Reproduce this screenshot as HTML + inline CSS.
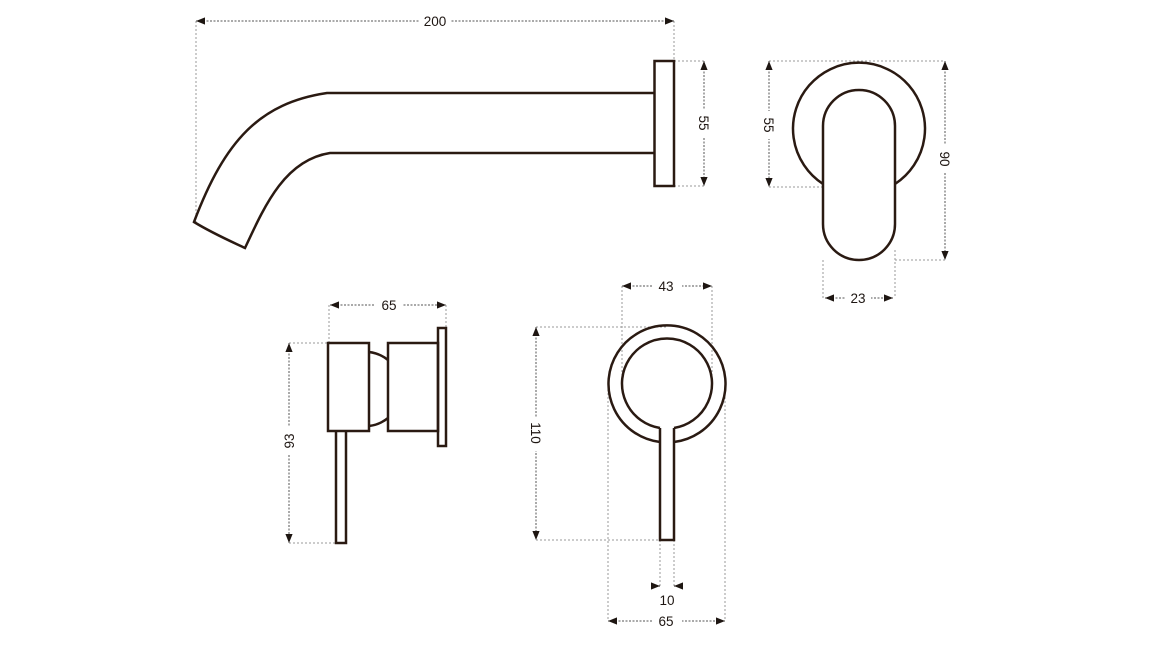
<!DOCTYPE html>
<html><head><meta charset="utf-8"><style>
html,body{margin:0;padding:0;background:#fff;}
svg{display:block;}
text{font-family:"Liberation Sans",sans-serif;font-size:13.5px;fill:#1e1612;}
</style></head><body>
<svg width="1152" height="648" viewBox="0 0 1152 648" xmlns="http://www.w3.org/2000/svg">
<defs>
<marker id="a" viewBox="0 0 10 10" refX="10" refY="5" markerWidth="9" markerHeight="9" markerUnits="userSpaceOnUse" orient="auto-start-reverse"><path d="M0,1 L10,5 L0,9 Z" fill="#1e1612"/></marker>
</defs>
<g stroke="#9a9a9a" stroke-width="1" stroke-dasharray="2,2" fill="none">
<line x1="196" y1="21" x2="196" y2="222"/>
<line x1="674" y1="21" x2="674" y2="60"/>
<line x1="674" y1="61" x2="704" y2="61"/>
<line x1="674" y1="186" x2="704" y2="186"/>
<line x1="769" y1="61" x2="945" y2="61"/>
<line x1="769" y1="187" x2="823" y2="187"/>
<line x1="895" y1="260" x2="945" y2="260"/>
<line x1="823" y1="260" x2="823" y2="298"/>
<line x1="895" y1="250" x2="895" y2="298"/>
<line x1="329" y1="305" x2="329" y2="343"/>
<line x1="446" y1="305" x2="446" y2="328"/>
<line x1="289" y1="343" x2="328" y2="343"/>
<line x1="289" y1="543" x2="336" y2="543"/>
<line x1="536" y1="327" x2="666" y2="327"/>
<line x1="536" y1="540" x2="660" y2="540"/>
<line x1="622" y1="286" x2="622" y2="385"/>
<line x1="712" y1="286" x2="712" y2="385"/>
<line x1="660" y1="540" x2="660" y2="586"/>
<line x1="674" y1="540" x2="674" y2="586"/>
<line x1="608" y1="385" x2="608" y2="621"/>
<line x1="725" y1="385" x2="725" y2="621"/>
</g>
<g stroke="#555" stroke-width="1" stroke-dasharray="2,1.5" fill="none" marker-start="url(#a)" marker-end="url(#a)">
<line x1="196" y1="21" x2="674" y2="21"/>
<line x1="704" y1="61" x2="704" y2="186"/>
<line x1="769" y1="61" x2="769" y2="187"/>
<line x1="945" y1="61" x2="945" y2="260"/>
<line x1="825" y1="298" x2="893" y2="298"/>
<line x1="330" y1="305" x2="446" y2="305"/>
<line x1="289" y1="343" x2="289" y2="543"/>
<line x1="536" y1="327" x2="536" y2="540"/>
<line x1="622" y1="286" x2="712" y2="286"/>
<line x1="608" y1="621" x2="725" y2="621"/>
</g>
<g marker-end="url(#a)" stroke="#1e1612" stroke-width="1">
<line x1="652" y1="586" x2="660" y2="586"/>
<line x1="682" y1="586" x2="674" y2="586"/>
</g>
<g fill="#fff">
<rect x="419" y="12" width="32" height="18"/>
<rect x="696" y="109" width="16" height="28"/>
<rect x="761" y="111" width="16" height="28"/>
<rect x="937" y="145" width="16" height="28"/>
<rect x="845" y="289" width="26" height="18"/>
<rect x="375" y="296" width="28" height="18"/>
<rect x="281" y="427" width="16" height="28"/>
<rect x="528" y="417" width="16" height="34"/>
<rect x="652" y="277" width="30" height="18"/>
<rect x="652" y="612" width="30" height="18"/>
</g>
<text x="435" y="26" text-anchor="middle">200</text>
<text transform="translate(699,123) rotate(90)" text-anchor="middle">55</text>
<text transform="translate(764,125) rotate(90)" text-anchor="middle">55</text>
<text transform="translate(940,159) rotate(90)" text-anchor="middle">90</text>
<text x="858" y="303" text-anchor="middle">23</text>
<text x="389" y="310" text-anchor="middle">65</text>
<text transform="translate(294,441) rotate(-90)" text-anchor="middle">93</text>
<text transform="translate(531,433) rotate(90)" text-anchor="middle">110</text>
<text x="666" y="291" text-anchor="middle">43</text>
<text x="667" y="605" text-anchor="middle">10</text>
<text x="666" y="626" text-anchor="middle">65</text>
<g stroke="#2a1a12" stroke-width="2.5" fill="none">
<rect x="654.5" y="61" width="19.5" height="125"/>
<path d="M654,93 L327,93 C260,103 225,140 194,222 C212,233 228,240 245,248 C265,205 285,160 330,153 L654,153"/>
<path d="M823,184 A66,66 0 1 1 895,184"/>
<rect x="823" y="90" width="72" height="170" rx="36" ry="36"/>
<rect x="328" y="343" width="41" height="88"/>
<path d="M336,431 L336,543 L346,543 L346,431"/>
<path d="M369,352 A37,37 0 0 1 388,360"/>
<path d="M369,426 A37,37 0 0 0 388,418"/>
<rect x="388" y="343" width="50" height="88"/>
<rect x="438" y="328" width="8" height="118"/>
<path d="M660,442 A58.5,58.5 0 1 1 674,442"/>
<path d="M660,428 A45,45 0 1 1 674,428"/>
<path d="M660,428 L660,540 L674,540 L674,428"/>
</g>
</svg>
</body></html>
